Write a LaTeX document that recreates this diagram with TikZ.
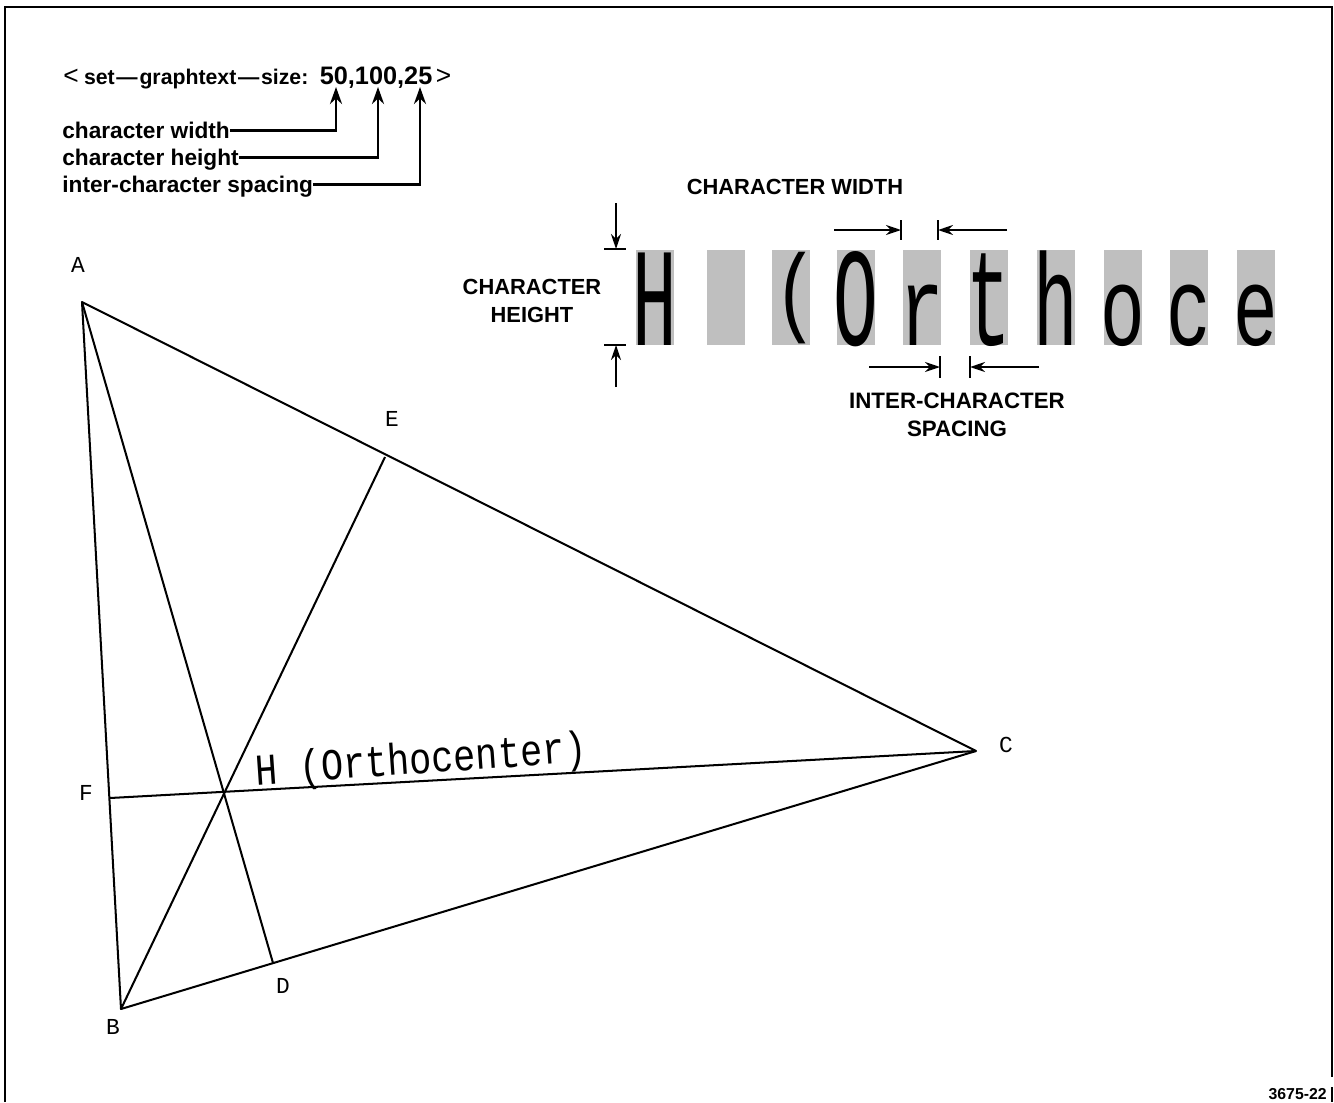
\documentclass[tikz,border=0pt]{standalone}
\usepackage{fontspec}
\setmainfont{Liberation Sans}
\newfontfamily\plotfont{Liberation Mono}
\usetikzlibrary{arrows.meta}
% glyph in a box, vertical scale as first argument
\newcommand{\bigglyph}[2]{\makebox[0pt][c]{\scalebox{0.53}[#1]{\fontsize{80}{80}\plotfont #2}}}

\tikzset{
  boldlabel/.style={font=\fontsize{12.45}{15}\selectfont\bfseries, inner sep=0pt, align=center},
  namelabel/.style={font=\fontsize{12.9}{15}\selectfont\bfseries, inner sep=0pt, anchor=base west},
  pointlabel/.style={font=\fontsize{13}{15}\plotfont, inner sep=0pt},
  charbox/.style={fill=gray!50, minimum width=38*0.02cm, inner sep=0pt, text height=95*0.02cm, text depth=0pt},
  side/.style={line width=1.15pt},
  leader/.style={line width=1.6pt, -{Stealth[length=17*0.02cm, width=12*0.02cm]}},
  dimarrow/.style={line width=1.2pt, -{Stealth[length=15*0.02cm, width=10*0.02cm]}},
  tick/.style={line width=0.7pt}
}

\begin{document}
\begin{tikzpicture}[x=0.02cm, y=-0.02cm]
  \useasboundingbox (0,0) rectangle (1334,1102);

  % Marco
  \draw[side] (5,1102) -- (5,7) -- (1332,7) -- (1332,1077);
  \draw[side] (1332,1087) -- (1332,1102);

  % Texto superior
  \node[namelabel, font=\fontsize{12.1}{15}\selectfont\bfseries] (command) at (63,84) {{\fontsize{15}{15}\selectfont\mdseries <}\kern3pt set\kern1pt—\kern1pt graphtext\kern1pt—\kern1pt size:\kern6.5pt{\fontsize{14.4}{15}\selectfont 50,100,25}\kern2pt{\fontsize{15}{15}\selectfont\mdseries >}};
  \node[namelabel] (lblwidth) at (62,138) {character width};
  \node[namelabel] (lblheight) at (62,165) {character height};
  \node[namelabel] (lblspacing) at (62,192) {inter-character spacing};
  \coordinate (numwidth) at (336,87);
  \coordinate (numheight) at (378,87);
  \coordinate (numspacing) at (420,87);
  \draw[leader] ([yshift=4.5pt]lblwidth.base east) -| (numwidth);
  \draw[leader] ([yshift=4.5pt]lblheight.base east) -| (numheight);
  \draw[leader] ([yshift=4.5pt]lblspacing.base east) -| (numspacing);

  % Caracteres
  \node[charbox] (cH) at (655,297.5) {\bigglyph{1}{H}};
  \node[charbox] (cspace) at (726,297.5) {};
  \node[charbox] (cparen) at (791,297.5) {\hspace{6pt}\raisebox{12pt}{\bigglyph{0.7}{(}}};
  \node[charbox] (cO) at (856,297.5) {\bigglyph{1}{O}};
  \node[charbox] (cr) at (922,297.5) {\bigglyph{0.8}{r}};
  \node[charbox] (ct) at (989,297.5) {\bigglyph{0.98}{t}};
  \node[charbox] (ch) at (1056,297.5) {\bigglyph{0.93}{h}};
  \node[charbox] (co) at (1123,297.5) {\bigglyph{0.8}{o}};
  \node[charbox] (cc) at (1189,297.5) {\bigglyph{0.8}{c}};
  \node[charbox] (ce) at (1256,297.5) {\bigglyph{0.8}{e}};

  % Cotas
  \node[boldlabel] (lblcwidth) at (795,187) {CHARACTER WIDTH};
  \node[boldlabel] (lblcheight) at (532,301) {CHARACTER\\[1pt]HEIGHT};
  \node[boldlabel, font=\fontsize{12.7}{15}\selectfont\bfseries] (lblcspacing) at (957,415) {INTER-CHARACTER\\[1pt]SPACING};

  \coordinate (wtickl) at (901,230);
  \coordinate (wtickr) at (938,230);
  \coordinate (wfromr) at (1007,230);
  \coordinate (wfroml) at (834,230);
  \draw[dimarrow] (wfroml) -- (wtickl);
  \draw[dimarrow] (wfromr) -- (wtickr);
  \draw[tick] (901,220) -- (901,240);
  \draw[tick] (938,220) -- (938,240);

  \coordinate (stickl) at (940,367);
  \coordinate (stickr) at (970,367);
  \coordinate (sfroml) at (869,367);
  \coordinate (sfromr) at (1039,367);
  \draw[dimarrow] (sfroml) -- (stickl);
  \draw[dimarrow] (sfromr) -- (stickr);
  \draw[tick] (940,356) -- (940,378);
  \draw[tick] (970,356) -- (970,378);

  \coordinate (htickt) at (616,249);
  \coordinate (htickb) at (616,345);
  \coordinate (hfromt) at (616,203);
  \coordinate (hfromb) at (616,387);
  \draw[dimarrow] (hfromt) -- (htickt);
  \draw[dimarrow] (hfromb) -- (htickb);
  \draw[tick] (604,249) -- (626,249);
  \draw[tick] (604,345) -- (626,345);

  % Triangulo
  \coordinate (A) at (82,302);
  \coordinate (B) at (121,1009);
  \coordinate (C) at (976,751);
  \coordinate (D) at (273,963);
  \coordinate (E) at (385,457);
  \coordinate (F) at (110,798);
  \draw[side, line join=round] (A) -- (B) -- (C) -- cycle;
  \draw[side] (A) -- (D);
  \draw[side] (B) -- (E);
  \draw[side] (C) -- (F);

  % Etiquetas
  \node[pointlabel] (lblA) at (78,265) {A};
  \node[pointlabel] (lblB) at (113,1027) {B};
  \node[pointlabel] (lblC) at (1006,745) {C};
  \node[pointlabel] (lblD) at (283,986) {D};
  \node[pointlabel] (lblE) at (392,419) {E};
  \node[pointlabel] (lblF) at (86,793) {F};
  \node[font=\fontsize{21}{24}\plotfont, inner sep=0pt, rotate=4] (lblH) at (421,762) {\scalebox{1}[1.2]{H (Orthocenter)}};
  \node[font=\fontsize{9}{10}\selectfont\bfseries, inner sep=0pt, anchor=east] (figno) at (1327,1094) {3675-22};
\end{tikzpicture}
\end{document}
